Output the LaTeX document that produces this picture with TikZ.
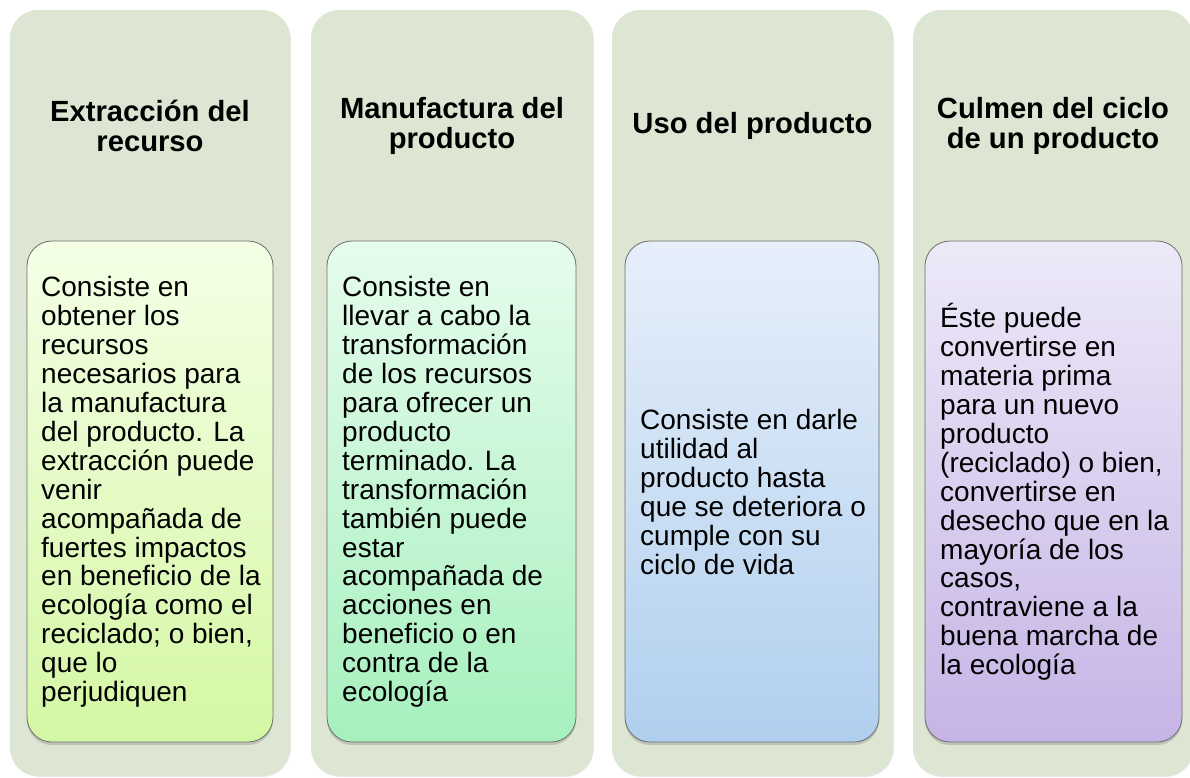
\documentclass[tikz,border=0pt]{standalone}
\usepackage{fontspec}
\setmainfont{Liberation Sans}
\usetikzlibrary{shadows}
\definecolor{outerfill}{RGB}{221,230,210}
\definecolor{bordergray}{RGB}{110,110,110}
\definecolor{gAtop}{RGB}{244,255,230}
\definecolor{gAbot}{RGB}{212,247,164}
\definecolor{gBtop}{RGB}{230,252,236}
\definecolor{gBbot}{RGB}{166,240,190}
\definecolor{gCtop}{RGB}{230,239,250}
\definecolor{gCbot}{RGB}{176,207,238}
\definecolor{gDtop}{RGB}{237,233,248}
\definecolor{gDbot}{RGB}{198,180,230}
\tikzset{
  outerbox/.style={fill=outerfill, rounded corners=28pt,
    drop shadow={shadow xshift=0.8pt, shadow yshift=-0.8pt, opacity=0.18}},
  innerbox/.style={draw=bordergray, line width=0.8pt, rounded corners=25pt,
    drop shadow={shadow xshift=0pt, shadow yshift=-3pt, opacity=0.35}},
  heading/.style={align=center, font=\bfseries\fontsize{29.2}{29.8}\selectfont, inner sep=0pt},
  bodytext/.style={align=left, anchor=west, font=\fontsize{28}{28.9}\selectfont, inner sep=0pt},
}
\begin{document}
\begin{tikzpicture}[x=1pt,y=-1pt]
\useasboundingbox (0,0) rectangle (1190,777);
\clip (0,0) rectangle (1190,777);
% outer columns
\path[outerbox] (10,10) rectangle (290,776);
\path[outerbox] (311,10) rectangle (593,776);
\path[outerbox] (612,10) rectangle (893,776);
\path[outerbox] (913,10) rectangle (1193,776);
% headings
\node[heading] (h1) at (150,126) {Extracción del\\recurso};
\node[heading] (h2) at (452,126) {Manufactura del\\producto};
\node[heading] (h3) at (752.5,126) {Uso del producto};
\node[heading] (h4) at (1053,126) {Culmen del ciclo\\de un producto};
% inner boxes
\path[innerbox, top color=gAtop, bottom color=gAbot] (27,241) rectangle (273,742);
\path[innerbox, top color=gBtop, bottom color=gBbot] (327,241) rectangle (576,742);
\path[innerbox, top color=gCtop, bottom color=gCbot] (625,241) rectangle (879,742);
\path[innerbox, top color=gDtop, bottom color=gDbot] (925,241) rectangle (1182,742);
% body texts
\node[bodytext] (t1) at (41,492) {Consiste en\\obtener los\\recursos\\necesarios para\\la manufactura\\del producto. La\\extracción puede\\venir\\acompañada de\\fuertes impactos\\en beneficio de la\\ecología como el\\reciclado; o bien,\\que lo\\perjudiquen};
\node[bodytext] (t2) at (342,492) {Consiste en\\llevar a cabo la\\transformación\\de los recursos\\para ofrecer un\\producto\\terminado. La\\transformación\\también puede\\estar\\acompañada de\\acciones en\\beneficio o en\\contra de la\\ecología};
\node[bodytext] (t3) at (640,492) {Consiste en darle\\utilidad al\\producto hasta\\que se deteriora o\\cumple con su\\ciclo de vida};
\node[bodytext] (t4) at (940,492) {Éste puede\\convertirse en\\materia prima\\para un nuevo\\producto\\(reciclado) o bien,\\convertirse en\\desecho que en la\\mayoría de los\\casos,\\contraviene a la\\buena marcha de\\la ecología};
\end{tikzpicture}
\end{document}
